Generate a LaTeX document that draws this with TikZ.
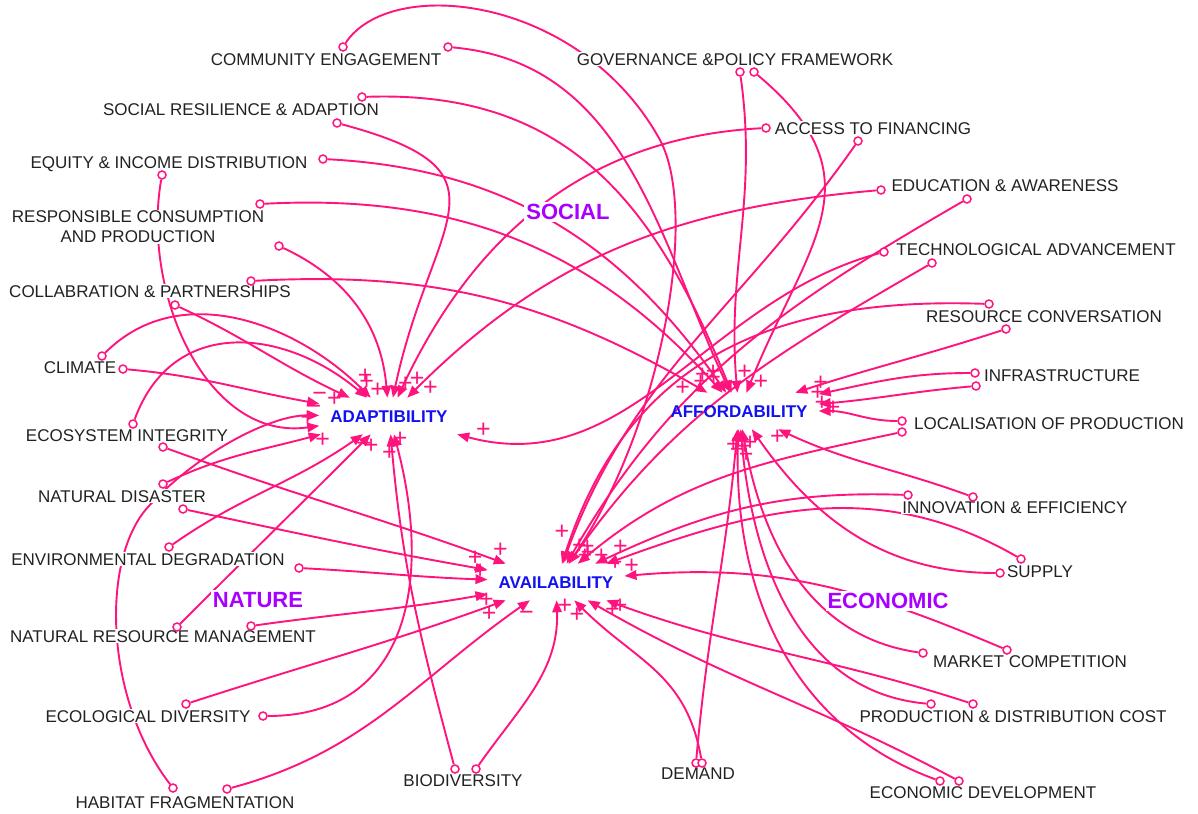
\documentclass[tikz,border=0pt]{standalone}
\usepackage{fontspec}
\setmainfont{Liberation Sans}
\usetikzlibrary{arrows.meta}
\definecolor{linkpink}{RGB}{255,20,125}
\definecolor{hubblue}{RGB}{18,18,240}
\definecolor{grouppurple}{RGB}{168,0,255}
\definecolor{labelgray}{RGB}{34,34,34}
\pgfdeclarelayer{paper}
\pgfdeclarelayer{links}
\pgfsetlayers{paper,links,main}
\tikzset{
  lnk/.style={draw=linkpink, line width=1.9pt, -{Triangle[length=12pt,width=9.5pt]}},
  tail/.style={circle, draw=linkpink, fill=white, line width=1.5pt, minimum size=8pt, inner sep=0pt},
  lbl/.style={fill=white, inner sep=1pt, text=labelgray, font=\fontsize{17}{20}\selectfont, text height=12.2pt, text depth=0pt},
  lbltwo/.style={fill=white, inner sep=1pt, text=labelgray, font=\fontsize{17}{20}\selectfont, align=center},
  hub/.style={text=hubblue, font=\bfseries\fontsize{17}{20}\selectfont, text height=12.2pt, text depth=0pt, inner xsep=11pt, inner ysep=12pt},
  grp/.style={fill=white, inner sep=2pt, text=grouppurple, font=\bfseries\fontsize{22}{24}\selectfont, text height=15.8pt, text depth=0pt},
  sgn/.style={text=linkpink, font=\fontsize{25}{25}\selectfont, inner sep=0pt, text height=11pt, text depth=0pt, auto, pos=0.965},
}
\begin{document}
\begin{tikzpicture}[x=1pt,y=1pt]
\begin{pgfonlayer}{paper}
  \fill[white] (0,0) rectangle (1198,-813);
\end{pgfonlayer}
\useasboundingbox (0,0) rectangle (1198,-813);

% the three core variables
\node[hub] (adapt)  at (389,-416) {ADAPTIBILITY};
\node[hub] (afford) at (739,-411) {AFFORDABILITY};
\node[hub] (avail)  at (556,-582) {AVAILABILITY};

% group headings
\node[grp] (social)   at (568,-212) {SOCIAL};
\node[grp] (nature)   at (258,-600) {NATURE};
\node[grp] (economic) at (888,-601) {ECONOMIC};

% factor labels
\node[lbl] (ce)    at (326,-59)  {COMMUNITY ENGAGEMENT};
\node[lbl] (gov)   at (735,-59)  {GOVERNANCE \&POLICY FRAMEWORK};
\node[lbl] (sra)   at (241,-109) {SOCIAL RESILIENCE \& ADAPTION};
\node[lbl] (acc)   at (873,-128) {ACCESS TO FINANCING};
\node[lbl] (eq)    at (169,-162) {EQUITY \& INCOME DISTRIBUTION};
\node[lbl] (edu)   at (1005,-185) {EDUCATION \& AWARENESS};
\node[lbltwo] (rcp) at (138,-227) {RESPONSIBLE CONSUMPTION\\AND PRODUCTION};
\node[lbl] (tech)  at (1036,-249) {TECHNOLOGICAL ADVANCEMENT};
\node[lbl] (col)   at (150,-291) {COLLABRATION \& PARTNERSHIPS};
\node[lbl] (res)   at (1044,-316) {RESOURCE CONVERSATION};
\node[lbl] (clim)  at (80,-367)  {CLIMATE};
\node[lbl] (infra) at (1062,-375) {INFRASTRUCTURE};
\node[lbl] (loc)   at (1049,-423) {LOCALISATION OF PRODUCTION};
\node[lbl] (eco)   at (127,-435) {ECOSYSTEM INTEGRITY};
\node[lbl] (nd)    at (122,-496) {NATURAL DISASTER};
\node[lbl] (innov) at (1015,-507) {INNOVATION \& EFFICIENCY};
\node[lbl] (env)   at (148,-559) {ENVIRONMENTAL DEGRADATION};
\node[lbl] (sup)   at (1040,-571) {SUPPLY};
\node[lbl] (nrm)   at (163,-636) {NATURAL RESOURCE MANAGEMENT};
\node[lbl] (mkt)   at (1030,-661) {MARKET COMPETITION};
\node[lbl] (ecd)   at (148,-716) {ECOLOGICAL DIVERSITY};
\node[lbl] (pdc)   at (1013,-716) {PRODUCTION \& DISTRIBUTION COST};
\node[lbl] (dem)   at (698,-773) {DEMAND};
\node[lbl] (bio)   at (463,-780) {BIODIVERSITY};
\node[lbl] (hab)   at (185,-802) {HABITAT FRAGMENTATION};
\node[lbl] (edev)  at (983,-792) {ECONOMIC DEVELOPMENT};

% link tails
\node[tail] (d1)  at (343,-47) {};
\node[tail] (d2)  at (448,-47) {};
\node[tail] (d3)  at (740,-72) {};
\node[tail] (d4)  at (754,-72) {};
\node[tail] (d5)  at (362,-97) {};
\node[tail] (d6)  at (337,-123) {};
\node[tail] (d7)  at (323,-159) {};
\node[tail] (d8)  at (162,-175) {};
\node[tail] (d9)  at (260,-204) {};
\node[tail] (d10) at (279,-246) {};
\node[tail] (d11) at (251,-281) {};
\node[tail] (d12) at (175,-305) {};
\node[tail] (d13) at (123,-369) {};
\node[tail] (d14) at (102,-356) {};
\node[tail] (d15) at (133,-424) {};
\node[tail] (d16) at (163,-447) {};
\node[tail] (d17) at (163,-484) {};
\node[tail] (d18) at (183,-509) {};
\node[tail] (d19) at (169,-547) {};
\node[tail] (d20) at (299,-568) {};
\node[tail] (d21) at (177,-627) {};
\node[tail] (d22) at (251,-626) {};
\node[tail] (d23) at (186,-704) {};
\node[tail] (d24) at (263,-716) {};
\node[tail] (d25) at (173,-788) {};
\node[tail] (d26) at (227,-789) {};
\node[tail] (d27) at (455,-769) {};
\node[tail] (d28) at (476,-769) {};
\node[tail] (d29) at (766,-128) {};
\node[tail] (d30) at (858,-141) {};
\node[tail] (d31) at (881,-190) {};
\node[tail] (d32) at (967,-199) {};
\node[tail] (d33) at (884,-252) {};
\node[tail] (d34) at (932,-263) {};
\node[tail] (d35) at (989,-304) {};
\node[tail] (d36) at (1006,-329) {};
\node[tail] (d37) at (975,-373) {};
\node[tail] (d38) at (976,-386) {};
\node[tail] (d39) at (902,-421) {};
\node[tail] (d40) at (902,-432) {};
\node[tail] (d41) at (908,-495) {};
\node[tail] (d42) at (973,-497) {};
\node[tail] (d43) at (1021,-559) {};
\node[tail] (d44) at (1000,-573) {};
\node[tail] (d45) at (923,-653) {};
\node[tail] (d46) at (1007,-650) {};
\node[tail] (d47) at (931,-704) {};
\node[tail] (d48) at (973,-704) {};
\node[tail] (d49) at (940,-781) {};
\node[tail] (d50) at (959,-781) {};
\node[tail] (d51) at (696,-763) {};
\node[tail] (d52) at (702,-763) {};

\begin{pgfonlayer}{links}
% social factors
\draw[lnk] (d1) .. controls (390,25) and (580,5) .. (660,-140)
               .. controls (700,-215) and (660,-430) .. (avail) node[sgn,pos=0.97] (s1) {+};
\draw[lnk] (d2)  to[out=-5,in=115] node[sgn,swap,pos=0.96] (s2) {+} (afford);
\draw[lnk] (d3)  to[out=-82,in=95] node[sgn,pos=0.965] (s3) {+} (afford);
\draw[lnk] (d4)  to[out=-40,in=68,looseness=1.3] node[sgn] (s4) {+} (afford);
\draw[lnk] (d5)  to[out=2,in=112,looseness=1.1] node[sgn,swap,pos=0.955] (s5) {+} (afford);
\draw[lnk] (d6)  to[out=-15,in=78,looseness=1.7] node[sgn] (s6) {+} (adapt);
\draw[lnk] (d7)  to[out=-3,in=125] node[sgn,swap,pos=0.95] (s7) {+} (afford);
\draw[lnk] (d8)  to[out=-100,in=188] node[sgn] (s8) {+} (adapt);
\draw[lnk] (d9)  to[out=3,in=132] node[sgn,swap] (s9) {+} (afford);
\draw[lnk] (d10) to[out=-25,in=95] node[sgn,swap,pos=0.94] (s10) {+} (adapt);
\draw[lnk] (d11) to[out=3,in=150] node[sgn,swap] (s11) {+} (afford);
\draw[lnk] (d12) to[out=-25,in=155] node[sgn,swap] (s12) {+} (adapt);
% natural factors
\draw[lnk] (d13) to[out=-5,in=170] node[sgn] (s13) {−} (adapt);
\draw[lnk] (d14) to[out=45,in=135] node[sgn,pos=0.94] (s14) {+} (adapt);
\draw[lnk] (d15) to[out=70,in=140,looseness=1.2] node[sgn] (s15) {+} (adapt);
\draw[lnk] (d16) to[out=-20,in=160] node[sgn] (s16) {+} (avail);
\draw[lnk] (d17) to[out=25,in=195] node[sgn,swap] (s17) {+} (adapt);
\draw[lnk] (d18) to[out=-12,in=170] node[sgn,pos=0.94] (s18) {+} (avail);
\draw[lnk] (d19) to[out=35,in=215] node[sgn,swap] (s19) {−} (adapt);
\draw[lnk] (d20) to[out=-3,in=178] node[sgn] (s20) {+} (avail);
\draw[lnk] (d21) to[out=45,in=225] node[sgn,swap] (s21) {+} (adapt);
\draw[lnk] (d22) to[out=8,in=190] node[sgn,swap] (s22) {+} (avail);
\draw[lnk] (d23) to[out=18,in=200] node[sgn,swap,pos=0.93] (s23) {+} (avail);
\draw[lnk] (d24) to[out=0,in=-75,looseness=1.2] node[sgn] (s24) {+} (adapt);
\draw[lnk] (d25) .. controls (105,-700) and (100,-560) .. (148,-507)
                 .. controls (196,-454) and (270,-415) .. (adapt) node[sgn] (s25) {−};
\draw[lnk] (d26) to[out=15,in=215] node[sgn,swap] (s26) {−} (avail);
\draw[lnk] (d27) to[out=105,in=-85] node[sgn,swap] (s27) {+} (adapt);
\draw[lnk] (d28) to[out=55,in=-88] node[sgn,swap] (s28) {+} (avail);
% economic factors
\draw[lnk] (d29) to[out=183,in=65] node[sgn,pos=0.95] (s29) {+} (adapt);
\draw[lnk] (d30) to[out=-125,in=70] node[sgn,pos=0.96] (s30) {+} (avail);
\draw[lnk] (d31) to[out=185,in=45] node[sgn] (s31) {+} (adapt);
\draw[lnk] (d32) to[out=-150,in=60] node[sgn,pos=0.96] (s32) {+} (avail);
\draw[lnk] (d33) to[out=195,in=-15] node[sgn,swap] (s33) {+} (adapt);
\draw[lnk] (d34) to[out=-150,in=55] node[sgn] (s34) {+} (avail);
\draw[lnk] (d35) to[out=178,in=72,looseness=1.1] node[sgn,swap,pos=0.96] (s35) {+} (avail);
\draw[lnk] (d36) to[out=198,in=18] node[sgn,pos=0.94] (s36) {+} (afford);
\draw[lnk] (d37) to[out=180,in=12] node[sgn,swap,pos=0.94] (s37) {+} (afford);
\draw[lnk] (d38) to[out=185,in=5] node[sgn] (s38) {+} (afford);
\draw[lnk] (d39) to[out=180,in=0] node[sgn,swap] (s39) {+} (afford);
\draw[lnk] (d40) to[out=192,in=40] node[sgn,pos=0.95] (s40) {+} (avail);
\draw[lnk] (d41) to[out=178,in=25] node[sgn] (s41) {+} (avail);
\draw[lnk] (d42) to[out=160,in=-25] node[sgn] (s42) {+} (afford);
\draw[lnk] (d43) to[out=150,in=20] node[sgn,swap,pos=0.95] (s43) {+} (avail);
\draw[lnk] (d44) to[out=180,in=-55] node[sgn] (s44) {+} (afford);
\draw[lnk] (d45) to[out=172,in=-80] node[sgn,pos=0.95] (s45) {+} (afford);
\draw[lnk] (d46) to[out=157,in=5] node[sgn,swap] (s46) {+} (avail);
\draw[lnk] (d47) to[out=175,in=-85] node[sgn,pos=0.97] (s47) {+} (afford);
\draw[lnk] (d48) to[out=162,in=-20] node[sgn] (s48) {+} (avail);
\draw[lnk] (d49) to[out=160,in=-92] node[sgn,swap,pos=0.94] (s49) {+} (afford);
\draw[lnk] (d50) to[out=152,in=-30] node[sgn,swap,pos=0.94] (s50) {+} (avail);
\draw[lnk] (d51) to[out=85,in=-95] node[sgn,swap] (s51) {+} (afford);
\draw[lnk] (d52) to[out=100,in=-45,looseness=1.1] node[sgn,pos=0.94] (s52) {+} (avail);
\end{pgfonlayer}
\end{tikzpicture}
\end{document}
